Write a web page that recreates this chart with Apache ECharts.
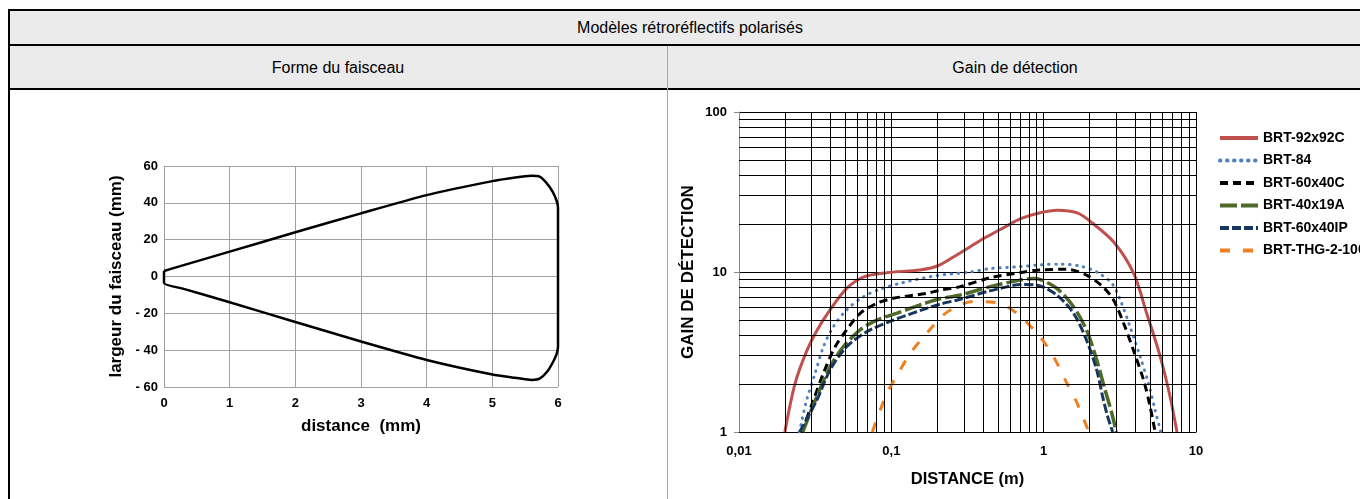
<!DOCTYPE html>
<html>
<head>
<meta charset="utf-8">
<script src="https://cdn.jsdelivr.net/npm/echarts@6/dist/echarts.min.js"></script>
<style>
html, body { margin: 0; padding: 0; background: #fff; width: 1360px; height: 499px; overflow: hidden; }
body { font-family: "Liberation Sans", Arial, sans-serif; position: relative; }
.bk { position: absolute; background: #000; }
.bg { position: absolute; background: #ebebeb; }
.t { position: absolute; font-size: 16px; color: #000; transform: translate(-50%, -50%); white-space: nowrap; }
#chart { position: absolute; left: 0; top: 0; width: 1360px; height: 499px; }
</style>
</head>
<body>
<div class="bg" style="left:10px;top:11px;width:1350px;height:33px"></div>
<div class="bg" style="left:10px;top:46px;width:1350px;height:42px"></div>
<div class="bk" style="left:8px;top:9px;width:1352px;height:2px"></div>
<div class="bk" style="left:8px;top:44px;width:1352px;height:2px"></div>
<div class="bk" style="left:8px;top:88px;width:1352px;height:2px"></div>
<div class="bk" style="left:8px;top:9px;width:2px;height:490px"></div>
<div style="position:absolute;left:667px;top:46px;width:1px;height:453px;background:#a8a8a8"></div>
<div class="t" style="left:690px;top:28px">Modèles rétroréflectifs polarisés</div>
<div class="t" style="left:338px;top:68px">Forme du faisceau</div>
<div class="t" style="left:1015px;top:68px">Gain de détection</div>
<div id="chart"></div>
<script>
// forme du faisceau (distance, largeur)
const beam = [[0, 3], [0.3, 6.2], [1, 13.5], [2, 24], [3, 34.3], [4, 44.2], [5, 51.8], [5.35, 53.8], [5.6, 54.7],
    [5.72, 54.2], [5.82, 51], [5.92, 46], [5.98, 41], [6, 37.5], [6, -38], [5.98, -42], [5.93, -46], [5.84, -51.5],
    [5.72, -55.5], [5.6, -56.2], [5.35, -55], [5, -53.2], [4, -45.3], [3, -35.3], [2, -24.7], [1, -14],
    [0.3, -6.7], [0, -3.5], [0, 3]];

// gain de détection (distance m, gain)
const names = ['BRT-92x92C', 'BRT-84', 'BRT-60x40C', 'BRT-40x19A', 'BRT-60x40IP', 'BRT-THG-2-100'];
const brt92 = [[0.02, 1], [0.0233, 2.0], [0.0278, 3.2], [0.0324, 4.3], [0.0396, 5.8], [0.0509, 7.9], [0.0655, 9.3],
    [0.0933, 9.9], [0.154, 10.3], [0.2, 10.9], [0.255, 12.4], [0.33, 14.4], [0.423, 16.6], [0.55, 19], [0.7, 21.5],
    [0.92, 23.3], [1.23, 24.3], [1.66, 23.4], [2.05, 20.5], [2.9, 15.3], [3.9, 9.8], [4.75, 5.5], [5.8, 3.0],
    [6.76, 1.66], [7.5, 1]];
const brt84 = [[0.0249, 1], [0.0278, 1.58], [0.0316, 2.33], [0.0358, 3.4], [0.0416, 4.55], [0.0509, 5.8],
    [0.0655, 7.0], [0.0843, 7.8], [0.12, 8.6], [0.2, 9.5], [0.33, 10.0], [0.445, 10.5], [0.7, 10.8], [0.95, 11.1],
    [1.28, 11.2], [1.73, 10.9], [2.23, 10.0], [2.8, 8.5], [3.18, 6.7], [3.69, 4.55], [4.3, 2.96], [4.87, 2.02],
    [5.39, 1.37], [5.87, 1]];
const brt60c = [[0.0258, 1], [0.0308, 1.58], [0.0358, 2.33], [0.0427, 3.4], [0.0509, 4.35], [0.0622, 5.5],
    [0.0802, 6.37], [0.103, 6.85], [0.171, 7.36], [0.209, 7.7], [0.283, 8.1], [0.445, 9.2], [0.7, 9.9],
    [0.946, 10.3], [1.42, 10.4], [1.91, 9.57], [2.44, 8.1], [2.87, 6.7], [3.35, 4.78], [3.88, 3.25], [4.53, 2.11],
    [5.0, 1.44], [5.39, 1]];
const brt40 = [[0.0262, 1], [0.0324, 1.66], [0.0396, 2.56], [0.0484, 3.41], [0.0622, 4.34], [0.0802, 5.0],
    [0.108, 5.52], [0.171, 6.43], [0.209, 6.8], [0.283, 7.18], [0.445, 8.1], [0.7, 8.9], [0.85, 9.1], [0.946, 9.0],
    [1.22, 7.91], [1.57, 6.07], [1.91, 4.34], [2.23, 2.82], [2.53, 1.83], [2.8, 1.31], [3.0, 1]];
const brt60ip = [[0.025, 1], [0.0324, 1.58], [0.0396, 2.44], [0.0509, 3.41], [0.0689, 4.23], [0.103, 5.0],
    [0.171, 5.93], [0.209, 6.3], [0.283, 6.75], [0.45, 7.65], [0.73, 8.35], [0.946, 8.18], [1.22, 7.18],
    [1.57, 5.52], [1.91, 3.76], [2.23, 2.44], [2.44, 1.66], [2.63, 1.25], [2.84, 1]];
const thg = [[0.075, 1], [0.0933, 1.74], [0.108, 2.22], [0.133, 3.1], [0.171, 4.14], [0.219, 5.38], [0.283, 6.22],
    [0.345, 6.53], [0.45, 6.5], [0.55, 6.2], [0.7, 5.3], [0.946, 3.94], [1.16, 2.96], [1.42, 2.02], [1.66, 1.51],
    [1.98, 1]];

// lignes secondaires de la grille log
const xMinor = [];
[0.01, 0.1, 1].forEach(d => { for (let k = 2; k <= 9; k++) xMinor.push(+(k * d).toPrecision(2)); });
const yMinor = [];
[1, 10].forEach(d => { for (let k = 2; k <= 9; k++) yMinor.push(k * d); });

const bold = { fontFamily: 'Liberation Sans', fontWeight: 'bold', color: '#000' };
const fmt = v => String(+Number(v).toPrecision(3)).replace('.', ',');

function gainLine(name, data, color, width, dash, cap) {
    return {
        name: name, type: 'line', xAxisIndex: 1, yAxisIndex: 1, data: data,
        smooth: 0.3, symbol: 'none', z: 3,
        lineStyle: { color: color, width: width, type: dash, cap: cap || 'butt' },
        itemStyle: { color: color }
    };
}

const chart = echarts.init(document.getElementById('chart'));
chart.setOption({
    animation: false,
    backgroundColor: 'transparent',
    grid: [
        { left: 164, top: 166, width: 394, height: 221 },
        { left: 739, top: 112, width: 457, height: 320 }
    ],
    xAxis: [
        {
            type: 'value', gridIndex: 0, min: 0, max: 6, interval: 1,
            name: 'distance  (mm)', nameLocation: 'middle', nameGap: 31,
            nameTextStyle: Object.assign({ fontSize: 17 }, bold),
            axisLine: { lineStyle: { color: '#a0a0a0' } },
            axisTick: { show: false },
            axisLabel: Object.assign({ fontSize: 13, margin: 10 }, bold),
            splitLine: { lineStyle: { color: '#a0a0a0', width: 1 } }
        },
        {
            type: 'log', logBase: 10, gridIndex: 1, min: 0.01, max: 10,
            name: 'DISTANCE (m)', nameLocation: 'middle', nameGap: 39,
            nameTextStyle: Object.assign({ fontSize: 16.5 }, bold),
            axisLine: { lineStyle: { color: '#000' } },
            axisTick: { show: false },
            axisLabel: Object.assign({ fontSize: 13, margin: 13, formatter: fmt }, bold),
            splitLine: { lineStyle: { color: '#000', width: 1 } }
        }
    ],
    yAxis: [
        {
            type: 'value', gridIndex: 0, min: -60, max: 60, interval: 20,
            name: 'largeur du faisceau (mm)', nameLocation: 'middle', nameGap: 39,
            nameTextStyle: Object.assign({ fontSize: 17 }, bold),
            axisLine: { show: true, lineStyle: { color: '#a0a0a0' } },
            axisTick: { show: false },
            axisLabel: Object.assign({ fontSize: 13, margin: 6, formatter: v => v < 0 ? '- ' + (-v) : String(v) }, bold),
            splitLine: { lineStyle: { color: '#a0a0a0', width: 1 } }
        },
        {
            type: 'log', logBase: 10, gridIndex: 1, min: 1, max: 100,
            name: 'GAIN DE DÉTECTION', nameLocation: 'middle', nameGap: 42,
            nameTextStyle: Object.assign({ fontSize: 17 }, bold),
            axisLine: { show: true, lineStyle: { color: '#8a8a8a' } },
            axisTick: { show: true, length: 5, lineStyle: { color: '#8a8a8a' } },
            axisLabel: Object.assign({ fontSize: 13, margin: 12, formatter: fmt }, bold),
            splitLine: { lineStyle: { color: '#000', width: 1 } }
        }
    ],
    legend: {
        orient: 'vertical', left: 1213, top: 126,
        itemWidth: 38, itemHeight: 14, itemGap: 8.5,
        itemStyle: { opacity: 0 },
        lineStyle: { width: 4 },
        data: names,
        textStyle: Object.assign({ fontSize: 14 }, bold)
    },
    series: [
        {
            type: 'line', xAxisIndex: 0, yAxisIndex: 0, data: beam,
            smooth: 0.2, symbol: 'none', z: 3,
            lineStyle: { color: '#000', width: 2.5 }
        },
        {
            type: 'line', xAxisIndex: 1, yAxisIndex: 1, data: [], z: 1, silent: true,
            markLine: {
                silent: true, symbol: ['none', 'none'], label: { show: false },
                lineStyle: { color: '#000', width: 1, type: 'solid' },
                data: xMinor.map(v => ({ xAxis: v })).concat(yMinor.map(v => ({ yAxis: v })))
            }
        },
        gainLine(names[0], brt92, '#c0504d', 3, 'solid'),
        gainLine(names[1], brt84, '#4f81bd', 3, [0.5, 6.5], 'round'),
        gainLine(names[2], brt60c, '#000000', 3, [8, 5]),
        gainLine(names[3], brt40, '#4f6a28', 3.5, [17, 4]),
        gainLine(names[4], brt60ip, '#17375e', 3, [9, 3]),
        gainLine(names[5], thg, '#f0801f', 3, [10, 13])
    ]
});
</script>
</body>
</html>
